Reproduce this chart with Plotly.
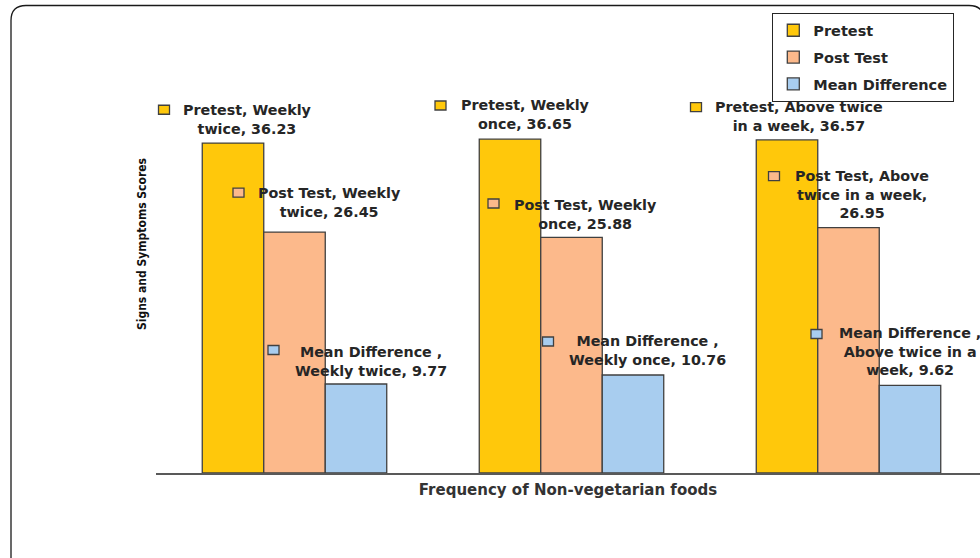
import textwrap
import plotly.graph_objects as go

# Data
categories = ["Weekly twice", "Weekly once", "Above twice in a week"]
series_names = ["Pretest", "Post Test", "Mean Difference"]
label_names = ["Pretest", "Post Test", "Mean Difference "]
pretest = [36.23, 36.65, 36.57]
post_test = [26.45, 25.88, 26.95]
mean_difference = [9.77, 10.76, 9.62]
values = [pretest, post_test, mean_difference]

# Styling
fills = ["#FFC80B", "#FCB98B", "#A8CDEF"]
outline = "#404040"
text_color = "#262626"
wrap_width = [20, 17, 18]

# Label placement (pixel offsets): text centre relative to category centre / bar top,
# key square centre relative to category centre / bar top
label_dx = [[-47, -46.5, -50], [35, 13.5, 13], [76, 75.5, 61]]
label_dy = [[23.6, 24.7, 23.9], [30, 22.8, 33.5], [23, 25, 33.4]]
key_dx = [[-130.5, -131, -152.5], [-56, -78, -74.5], [-21, -23.5, -32]]
key_dy = [[33.3, 33.7, 32.9], [39.5, 33.8, 51.5], [34, 33.5, 51.4]]

W, H = 980, 558
ML, MR, MT, MB = 156, 0, 15, 85
PW, PH = W - ML - MR, H - MT - MB
CAT_PX = 277.0
YMAX = 50.29

fig = go.Figure()
for name, vals, col in zip(series_names, values, fills):
    fig.add_trace(go.Bar(
        name=name, x=categories, y=vals,
        marker=dict(color=col, line=dict(color=outline, width=1.3)),
        legendgroup=name, hoverinfo="x+y+name",
    ))

annotations = []
shapes = []
for s, (lname, vals, col) in enumerate(zip(label_names, values, fills)):
    for c, (cat, v) in enumerate(zip(categories, vals)):
        full = f"{lname}, {cat}, {v:.2f}"
        lines = textwrap.wrap(full, width=wrap_width[s], break_long_words=False)
        annotations.append(dict(
            x=cat, y=v, xref="x", yref="y", text="<br>".join(lines),
            showarrow=False, xanchor="center", yanchor="middle", align="center",
            xshift=label_dx[s][c], yshift=label_dy[s][c],
            font=dict(family="DejaVu Sans", size=14.3, color=text_color, weight="bold"),
        ))
        kx, ky = key_dx[s][c], key_dy[s][c]
        shapes.append(dict(
            type="rect", xref="x", yref="y", xsizemode="pixel", ysizemode="pixel",
            xanchor=c, yanchor=v, x0=kx - 5.5, x1=kx + 5.5, y0=ky - 4.5, y1=ky + 4.5,
            fillcolor=col, line=dict(color=outline, width=1.3), layer="above",
        ))


def px(x):
    return (x - ML) / PW


def py(y):
    return (H - MB - y) / PH


# Rounded outer frame
L, T, R, B, r = 11, 5.5, 984, 575, 15
frame = (
    f"M {px(L)},{py(T + r)} Q {px(L)},{py(T)} {px(L + r)},{py(T)} "
    f"L {px(R - r)},{py(T)} Q {px(R)},{py(T)} {px(R)},{py(T + r)} "
    f"L {px(R)},{py(B - r)} Q {px(R)},{py(B)} {px(R - r)},{py(B)} "
    f"L {px(L + r)},{py(B)} Q {px(L)},{py(B)} {px(L)},{py(B - r)} Z"
)
shapes.append(dict(type="path", xref="paper", yref="paper", path=frame,
                   line=dict(color="#1a1a1a", width=1.3), layer="below"))

fig.update_layout(
    width=W, height=H,
    margin=dict(l=ML, r=MR, t=MT, b=MB, pad=0),
    paper_bgcolor="white", plot_bgcolor="white",
    barmode="group", bargap=0.334, bargroupgap=0,
    showlegend=True,
    legend=dict(
        x=px(772), y=py(13), xanchor="left", yanchor="top",
        bordercolor="#262626", borderwidth=1.3, bgcolor="rgba(255,255,255,0)",
        font=dict(family="DejaVu Sans", size=14.5, color=text_color, weight="bold"),
        tracegroupgap=5, traceorder="grouped",
    ),
    xaxis=dict(
        range=[-0.5, -0.5 + PW / CAT_PX], showticklabels=False, ticks="",
        showline=True, linecolor="#595959", linewidth=2, showgrid=False, zeroline=False,
        title=dict(text="Frequency of Non-vegetarian foods", standoff=10,
                   font=dict(family="DejaVu Sans", size=15, color="#333333", weight="bold")),
    ),
    yaxis=dict(
        range=[0, YMAX], showticklabels=False, ticks="", showline=False,
        showgrid=False, zeroline=False,
        title=dict(text="Signs and Symptoms Scores", standoff=5,
                   font=dict(family="DejaVu Sans Condensed, sans-serif",
                             size=12, color="#111111", weight="bold")),
    ),
    annotations=annotations,
    shapes=shapes,
)

fig.write_html("out.html")
